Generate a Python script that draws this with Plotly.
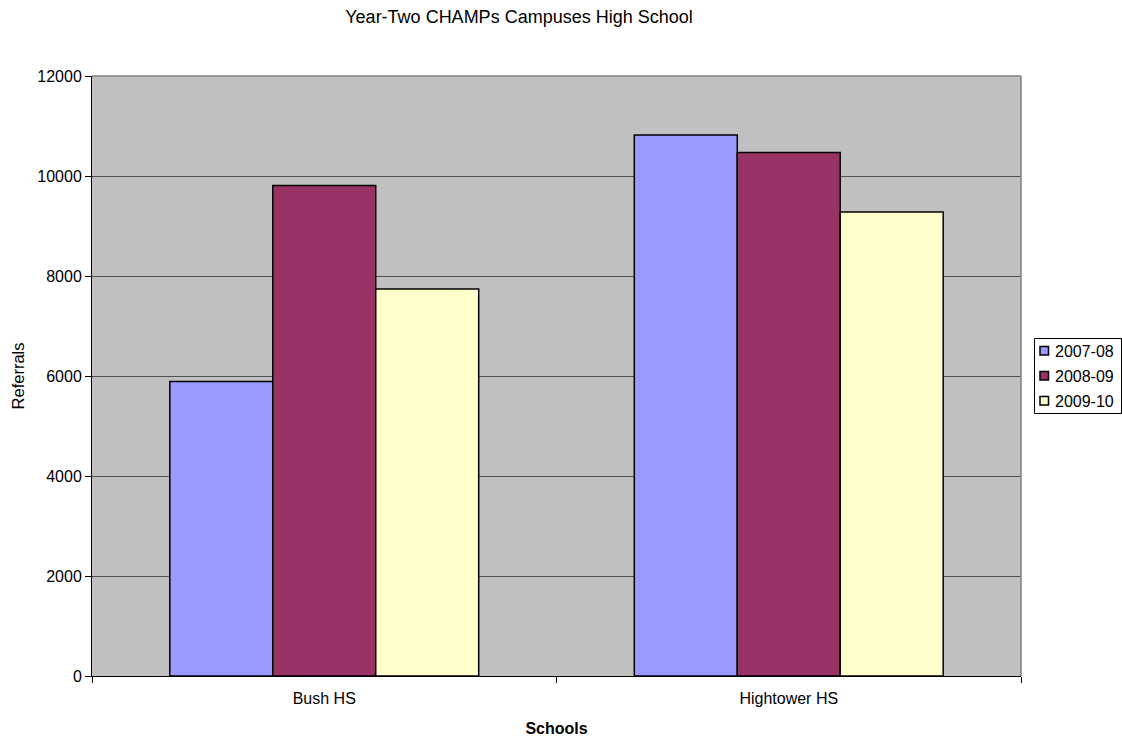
import plotly.graph_objects as go

schools = ["Bush HS", "Hightower HS"]
years = ["2007-08", "2008-09", "2009-10"]
referrals_2007_08 = [5890, 10820]
referrals_2008_09 = [9810, 10470]
referrals_2009_10 = [7740, 9280]
series = [referrals_2007_08, referrals_2008_09, referrals_2009_10]
colors = ["#9999FF", "#993366", "#FFFFCC"]

font_family = "Arial, Liberation Sans, sans-serif"
W, H = 1122, 741
ML, MR, MT, MB = 92, 101, 76, 65
PW, PH = W - ML - MR, H - MT - MB


def px_x(px):
    return (px - ML) / PW


def px_y(py):
    return (H - MB - py) / PH


fig = go.Figure()
for name, vals, col in zip(years, series, colors):
    fig.add_trace(go.Bar(
        x=schools, y=vals, name=name, showlegend=False,
        marker=dict(color=col, line=dict(color="black", width=1.5)),
    ))

fig.update_layout(
    width=W, height=H,
    margin=dict(l=ML, r=MR, t=MT, b=MB, autoexpand=False),
    paper_bgcolor="white", plot_bgcolor="#C0C0C0",
    font=dict(family=font_family, size=16, color="black"),
    barmode="group", bargap=0.335, bargroupgap=0,
    title=dict(text="Year-Two CHAMPs Campuses High School", x=519 / W, xref="container",
               xanchor="center", y=1 - 17 / H, yref="container", yanchor="middle",
               font=dict(size=18)),
)
fig.update_xaxes(
    tickson="boundaries", ticks="outside", ticklen=6, tickcolor="black",
    showline=True, linecolor="black", linewidth=1, ticklabelstandoff=8,
    title=dict(text="<b>Schools</b>", font=dict(size=16), standoff=16),
    automargin=False,
)
fig.update_yaxes(
    range=[0, 12000], dtick=2000, tickformat="d", ticks="outside", ticklen=6, tickcolor="black",
    showline=True, linecolor="black", linewidth=1,
    showgrid=True, gridcolor="#505050", gridwidth=1, zeroline=False,
    title=dict(text="Referrals", font=dict(size=16.5), standoff=8),
    automargin=False,
)
# gray top/right border of the plot area
fig.add_shape(type="line", xref="paper", yref="paper", x0=0, x1=1, y0=1, y1=1,
              line=dict(color="#808080", width=1.5))
fig.add_shape(type="line", xref="paper", yref="paper", x0=1, x1=1, y0=0, y1=1,
              line=dict(color="#808080", width=1.5))

# legend box with colour keys
fig.add_shape(type="rect", xref="paper", yref="paper",
              x0=px_x(1034.5), x1=px_x(1121.5), y0=px_y(413.5), y1=px_y(338.5),
              line=dict(color="black", width=1), fillcolor="white")
for i, (name, col) in enumerate(zip(years, colors)):
    cy = 350.5 + 25 * i
    fig.add_shape(type="rect", xref="paper", yref="paper",
                  x0=px_x(1040), x1=px_x(1048.5), y0=px_y(cy + 4.5), y1=px_y(cy - 4),
                  line=dict(color="black", width=1.5), fillcolor=col)
    fig.add_annotation(xref="paper", yref="paper", x=px_x(1053), y=px_y(cy + 1),
                       text=name, showarrow=False, xanchor="left", yanchor="middle",
                       font=dict(size=16))

fig.write_html("out.html")
